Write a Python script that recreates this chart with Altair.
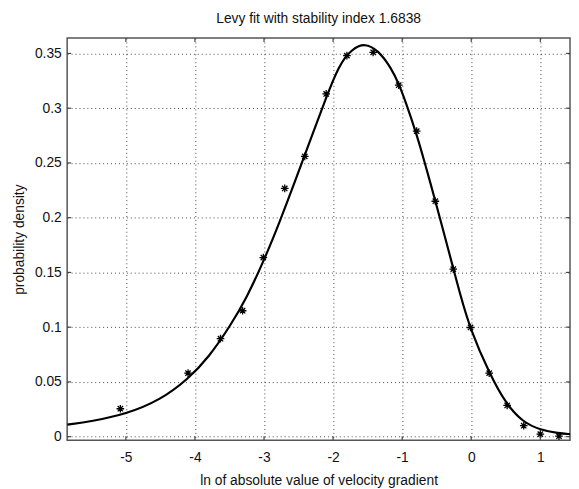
import altair as alt
import pandas as pd

TITLE = "Levy fit with stability index 1.6838"
X_TITLE = "ln of absolute value of velocity gradient"
Y_TITLE = "probability density"

fit_x = [-5.85, -5.5, -5.0, -4.5, -4.1, -3.8, -3.49, -3.25, -3.0, -2.78, -2.54, -2.30,
         -2.11, -1.92, -1.73, -1.54, -1.35, -1.16, -1.04, -0.946, -0.80, -0.685, -0.518,
         -0.40, -0.257, -0.16, -0.02, 0.267, 0.504, 0.742, 1.003, 1.265, 1.43]
fit_y = [0.0110, 0.0140, 0.0205, 0.0335, 0.0525, 0.0725, 0.1010, 0.127, 0.161, 0.195,
         0.235, 0.276, 0.308, 0.339, 0.354, 0.3595, 0.353, 0.337, 0.321, 0.305, 0.278,
         0.253, 0.215, 0.187, 0.153, 0.130, 0.099, 0.057, 0.0300, 0.0135, 0.0060,
         0.0032, 0.0023]

obs_x = [-5.08, -4.10, -3.63, -3.31, -3.01, -2.70, -2.41, -2.10, -1.80, -1.42, -1.05,
         -0.79, -0.52, -0.26, -0.01, 0.26, 0.52, 0.76, 1.00, 1.27]
obs_y = [0.0255, 0.058, 0.0895, 0.115, 0.1636, 0.2267, 0.256, 0.313, 0.348, 0.351, 0.321,
         0.279, 0.215, 0.153, 0.0997, 0.058, 0.0285, 0.010, 0.0023, 0.0004]

x_ticks = [-5, -4, -3, -2, -1, 0, 1]
y_ticks = [0, 0.05, 0.1, 0.15, 0.2, 0.25, 0.3, 0.35]
x_domain = [-5.85, 1.43]
y_domain = [-0.0033, 0.3641]

W, H = 510, 408
FONT = "Liberation Sans"
FS = 14

fit_df = pd.DataFrame({"x": fit_x, "y": fit_y})
obs_df = pd.DataFrame({"x": obs_x, "y": obs_y})
xt_df = pd.DataFrame({"x": x_ticks})
yt_df = pd.DataFrame({"y": y_ticks})

xs = alt.Scale(domain=x_domain, nice=False, zero=False)
ys = alt.Scale(domain=y_domain, nice=False, zero=False)

x_axis = alt.Axis(values=x_ticks, grid=True, ticks=False, domain=False,
                  labelFont=FONT, labelFontSize=FS, labelColor="#111", labelPadding=11,
                  labelExpr="'' + datum.value",
                  gridColor="#333", gridDash=[1, 3], gridWidth=1, gridOpacity=0.9,
                  title=X_TITLE, titleFont=FONT, titleFontSize=FS, titleFontWeight="normal",
                  titleColor="#111", titleX=W / 2, titleY=41, titleBaseline="middle",
                  titleAlign="center")
y_axis = alt.Axis(values=y_ticks, grid=True, ticks=False, domain=False,
                  labelFont=FONT, labelFontSize=FS, labelColor="#111", labelPadding=6,
                  labelExpr="'' + datum.value",
                  gridColor="#333", gridDash=[1, 3], gridWidth=1, gridOpacity=0.9,
                  title=Y_TITLE, titleFont=FONT, titleFontSize=FS, titleFontWeight="normal",
                  titleColor="#111", titleX=-48, titleY=H / 2, titleBaseline="middle",
                  titleAlign="center", titleAngle=-90)

ASTERISK = "M-1,0L1,0M0,-1L0,1M-0.7,-0.7L0.7,0.7M-0.7,0.7L0.7,-0.7"

X = alt.X("x:Q", scale=xs, axis=x_axis)
Y = alt.Y("y:Q", scale=ys, axis=y_axis)

line = alt.Chart(fit_df).mark_line(color="black", strokeWidth=2.2, interpolate="basis",
                                   clip=True).encode(x=X, y=Y)
pts = alt.Chart(obs_df).mark_point(shape=ASTERISK, size=60, filled=False, stroke="black",
                                   strokeWidth=1.3, opacity=1, clip=True).encode(x=X, y=Y)
tick_style = dict(color="#444", strokeWidth=1.2)
xt_bot = alt.Chart(xt_df).mark_rule(**tick_style).encode(
    x=X, y=alt.value(H), y2=alt.value(H - 4))
xt_top = alt.Chart(xt_df).mark_rule(**tick_style).encode(
    x=X, y=alt.value(0), y2=alt.value(4))
yt_left = alt.Chart(yt_df).mark_rule(**tick_style).encode(
    y=Y, x=alt.value(0), x2=alt.value(4))
yt_right = alt.Chart(yt_df).mark_rule(**tick_style).encode(
    y=Y, x=alt.value(W - 4), x2=alt.value(W))

chart = alt.layer(line, pts, xt_bot, xt_top, yt_left, yt_right).properties(
    width=W, height=H,
    background="white",
    title=alt.TitleParams(TITLE, font=FONT, fontSize=FS, fontWeight="normal", color="#111",
                          anchor="middle", offset=12),
    autosize=alt.AutoSizeParams(type="none"),
    padding={"left": 60, "top": 27, "right": 1, "bottom": 46},
).configure_view(stroke="#555", strokeWidth=1.5)

chart.save("out.html", embed_options={"renderer": "svg", "actions": False})
